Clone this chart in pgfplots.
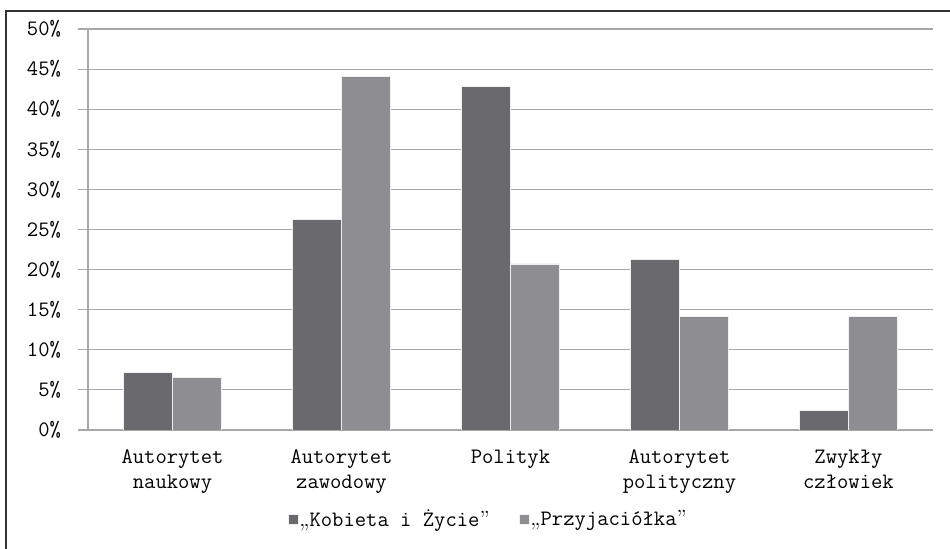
\documentclass[border=0pt]{standalone}
\usepackage{pgfplots}
\pgfplotsset{compat=1.18}
\definecolor{darkbar}{HTML}{6A6A6E}
\definecolor{lightbar}{HTML}{8E8E92}
\definecolor{gridc}{HTML}{A8A8A8}
\newcommand{\openq}{{\rmfamily„}}
\newcommand{\closeq}{{\rmfamily”}}
\begin{document}
\begin{tikzpicture}[font=\fontsize{11}{12.5}\selectfont\ttfamily]
\begin{axis}[
  scale only axis,
  width=422.5pt, height=200.5pt,
  ybar=0pt, bar width=0.29,
  xmin=-0.5, xmax=4.5, ymin=0, ymax=50,
  axis x line*=bottom, axis y line*=left,
  axis line style={gridc, line width=0.6pt},
  xtick={0,1,2,3,4},
  xticklabels={{Autorytet\\naukowy},{Autorytet\\zawodowy},{Polityk},{Autorytet\\polityczny},{Zwykły\\człowiek}},
  xticklabel style={align=center, text depth=0pt, yshift=-1.5pt},
  x tick style={draw=none},
  minor xtick={-0.5,0.5,1.5,2.5,3.5,4.5},
  minor x tick style={gridc, line width=0.6pt},
  minor tick length=3pt,
  tick align=outside,
  ytick={0,5,...,50},
  yticklabel={\pgfmathprintnumber{\tick}\%},
  yticklabel style={xshift=-5pt},
  y tick style={gridc, line width=0.6pt},
  major tick length=5pt,
  ymajorgrids, grid style={gridc, line width=0.6pt},
  /pgf/number format/assume math mode=true,
  legend style={at={(0.473,-0.224)}, anchor=center, draw=none, legend columns=2, font=\fontsize{11}{12.5}\selectfont\ttfamily,
    /tikz/every even column/.append style={column sep=14pt},
    nodes={inner xsep=0.5pt}},
  legend image code/.code={\fill[#1] (0pt,-2.5pt) rectangle (5pt,2.5pt);},
  legend cell align=left,
]
\addplot[fill=darkbar, draw=white!88!gray, line width=0.4pt] coordinates {(0,7.2) (1,26.2) (2,42.8) (3,21.3) (4,2.4)};
\addplot[fill=lightbar, draw=white!88!gray, line width=0.4pt] coordinates {(0,6.6) (1,44.1) (2,20.7) (3,14.2) (4,14.2)};
\legend{\openq Kobieta i Życie\closeq, \openq Przyjaciółka\closeq}
\end{axis}
\draw[line width=1pt, black!80] (-41pt,-59.5pt) -- (-41pt,209.5pt) -- (431pt,209.5pt);
\pgfresetboundingbox
\path[use as bounding box] (-44pt,-59.5pt) rectangle (431pt,215pt);
\end{tikzpicture}
\end{document}
